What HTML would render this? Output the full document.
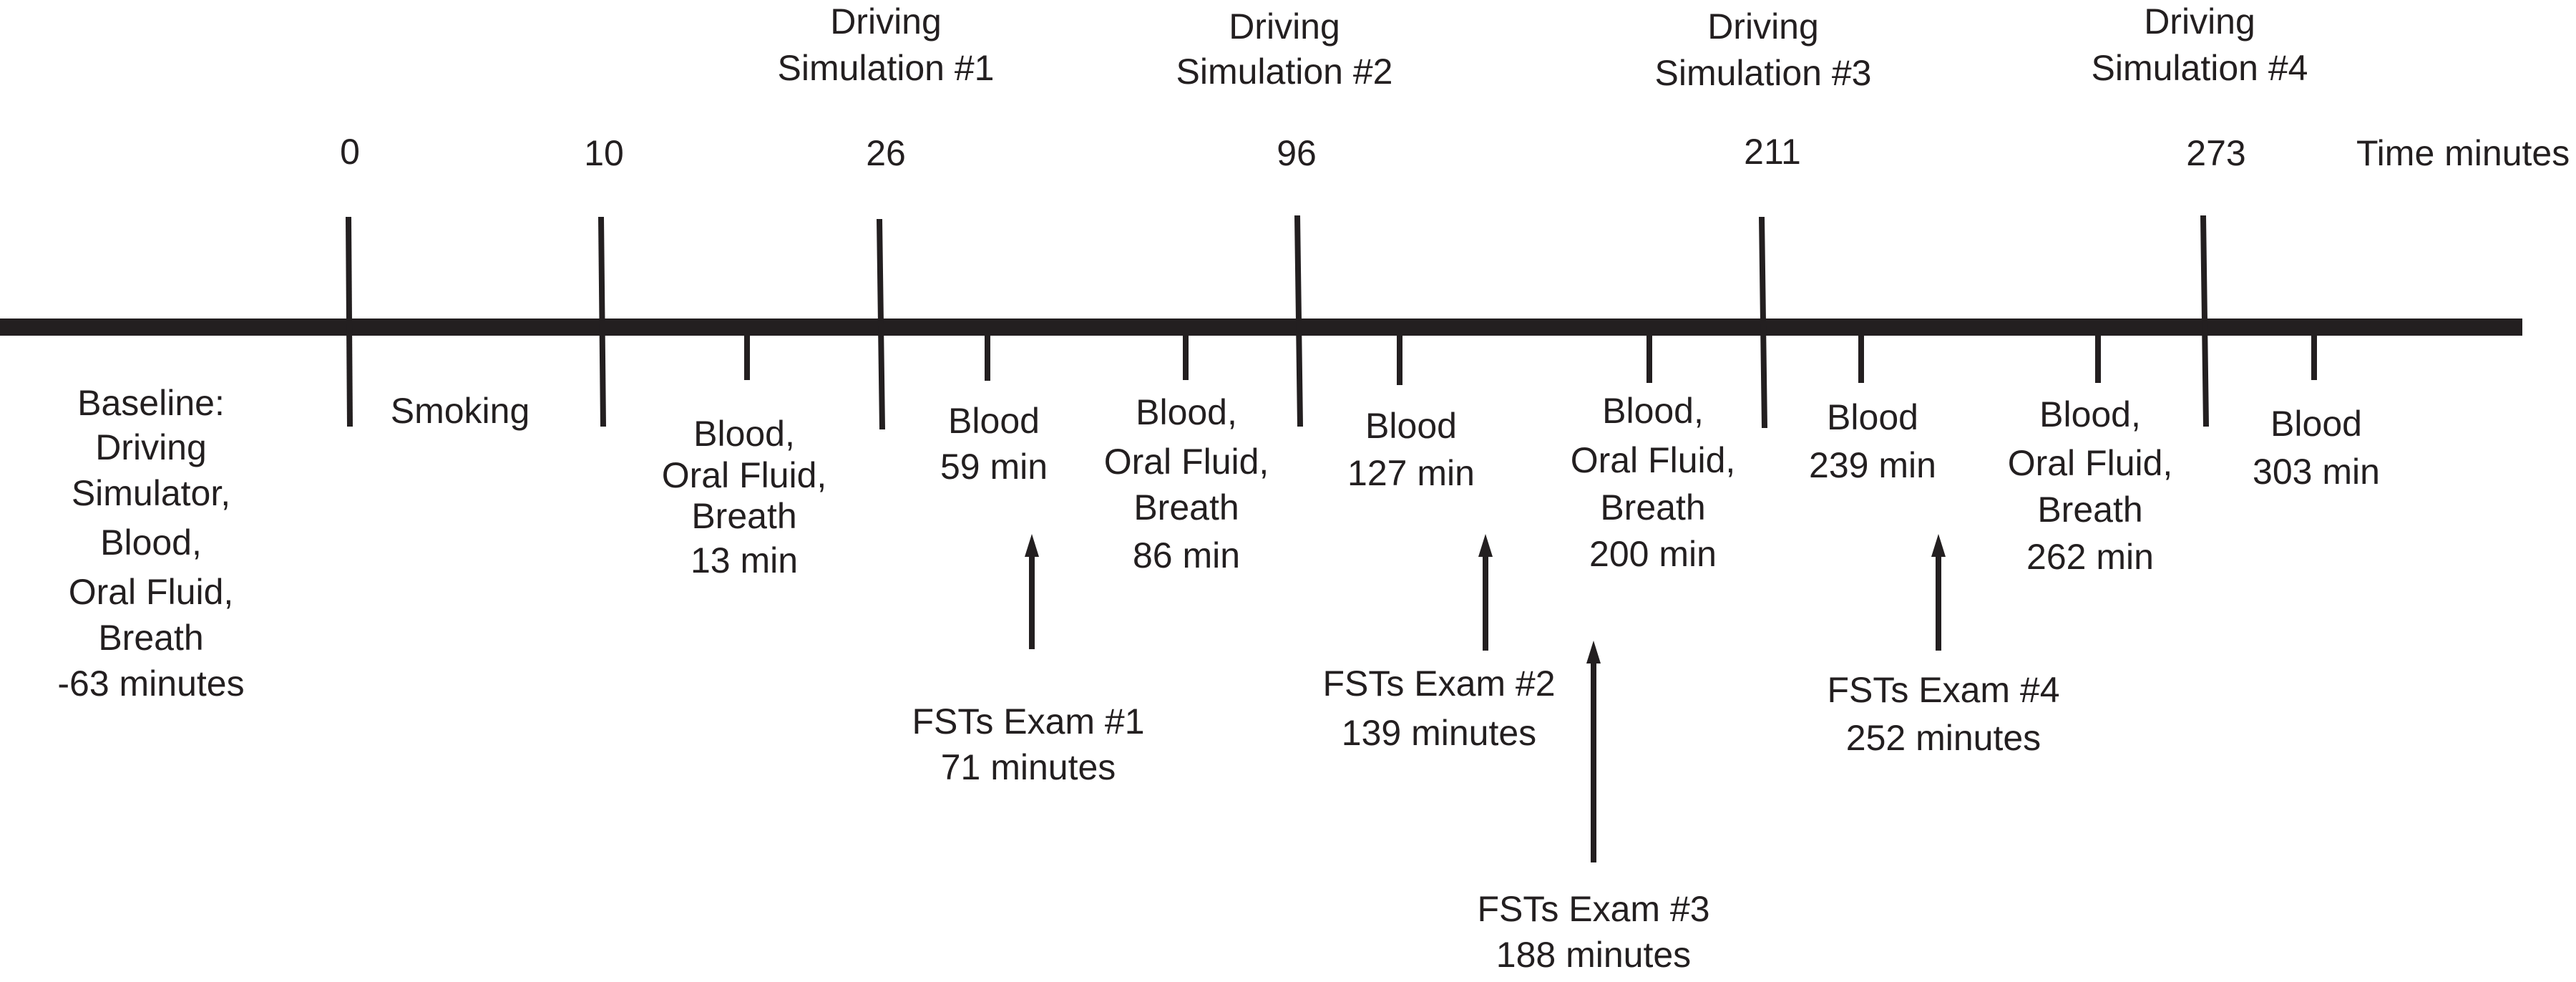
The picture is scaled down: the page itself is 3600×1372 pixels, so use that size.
<!DOCTYPE html>
<html><head><meta charset="utf-8"><style>
html,body{margin:0;padding:0;background:#fff;}
svg{display:block}
text{font-family:"Liberation Sans Narrow","Liberation Sans",sans-serif;font-size:50px;fill:#231f20;text-anchor:middle;dominant-baseline:central}
</style></head><body>
<svg width="3600" height="1372" viewBox="0 0 3600 1372" xmlns="http://www.w3.org/2000/svg">
<rect x="0" y="445" width="3525" height="24" fill="#231f20"/>
<g stroke="#231f20" stroke-width="8">
<line x1="487" y1="303" x2="489" y2="596"/>
<line x1="840" y1="303" x2="843" y2="596"/>
<line x1="1229" y1="306" x2="1233" y2="600"/>
<line x1="1813" y1="301" x2="1817" y2="596"/>
<line x1="2462" y1="303" x2="2466" y2="598"/>
<line x1="3079" y1="301" x2="3083" y2="596"/>
<line x1="1044" y1="469" x2="1044" y2="531"/>
<line x1="1380" y1="469" x2="1380" y2="532"/>
<line x1="1657" y1="469" x2="1657" y2="531"/>
<line x1="1956" y1="469" x2="1956" y2="538"/>
<line x1="2305" y1="469" x2="2305" y2="535"/>
<line x1="2601" y1="469" x2="2601" y2="535"/>
<line x1="2932" y1="469" x2="2932" y2="535"/>
<line x1="3234" y1="469" x2="3234" y2="531"/>
<line x1="1442" y1="907" x2="1442" y2="775"/>
<line x1="2076" y1="909" x2="2076" y2="775"/>
<line x1="2227" y1="1205" x2="2227" y2="924"/>
<line x1="2709" y1="909" x2="2709" y2="775"/>
</g>
<g fill="#231f20">
<polygon points="1442,746 1432,778 1452,778"/>
<polygon points="2076,746 2066,778 2086,778"/>
<polygon points="2227,895 2217,927 2237,927"/>
<polygon points="2709,746 2699,778 2719,778"/>
</g>
<text x="489" y="212">0</text>
<text x="844" y="214">10</text>
<text x="1238" y="214">26</text>
<text x="1812" y="214">96</text>
<text x="2477" y="212">211</text>
<text x="3097" y="214">273</text>
<text x="3293" y="214" style="text-anchor:start">Time minutes</text>
<text x="1238" y="30">Driving</text><text x="1238" y="95">Simulation #1</text>
<text x="1795" y="37">Driving</text><text x="1795" y="100">Simulation #2</text>
<text x="2464" y="37">Driving</text><text x="2464" y="102">Simulation #3</text>
<text x="3074" y="30">Driving</text><text x="3074" y="95">Simulation #4</text>
<text x="211" y="563">Baseline:</text><text x="211" y="625">Driving</text><text x="211" y="689">Simulator,</text><text x="211" y="758">Blood,</text><text x="211" y="827">Oral Fluid,</text><text x="211" y="891">Breath</text><text x="211" y="955">-63 minutes</text>
<text x="643" y="574">Smoking</text>
<text x="1040" y="606">Blood,</text><text x="1040" y="664">Oral Fluid,</text><text x="1040" y="721">Breath</text><text x="1040" y="783">13 min</text>
<text x="1389" y="588">Blood</text><text x="1389" y="652">59 min</text>
<text x="1658" y="576">Blood,</text><text x="1658" y="645">Oral Fluid,</text><text x="1658" y="709">Breath</text><text x="1658" y="776">86 min</text>
<text x="1972" y="595">Blood</text><text x="1972" y="661">127 min</text>
<text x="2310" y="574">Blood,</text><text x="2310" y="643">Oral Fluid,</text><text x="2310" y="709">Breath</text><text x="2310" y="774">200 min</text>
<text x="2617" y="583">Blood</text><text x="2617" y="650">239 min</text>
<text x="2921" y="579">Blood,</text><text x="2921" y="647">Oral Fluid,</text><text x="2921" y="712">Breath</text><text x="2921" y="778">262 min</text>
<text x="3237" y="592">Blood</text><text x="3237" y="659">303 min</text>
<text x="1437" y="1008">FSTs Exam #1</text><text x="1437" y="1072">71 minutes</text>
<text x="2011" y="955">FSTs Exam #2</text><text x="2011" y="1024">139 minutes</text>
<text x="2227" y="1270">FSTs Exam #3</text><text x="2227" y="1334">188 minutes</text>
<text x="2716" y="964">FSTs Exam #4</text><text x="2716" y="1031">252 minutes</text>
</svg>
</body></html>
